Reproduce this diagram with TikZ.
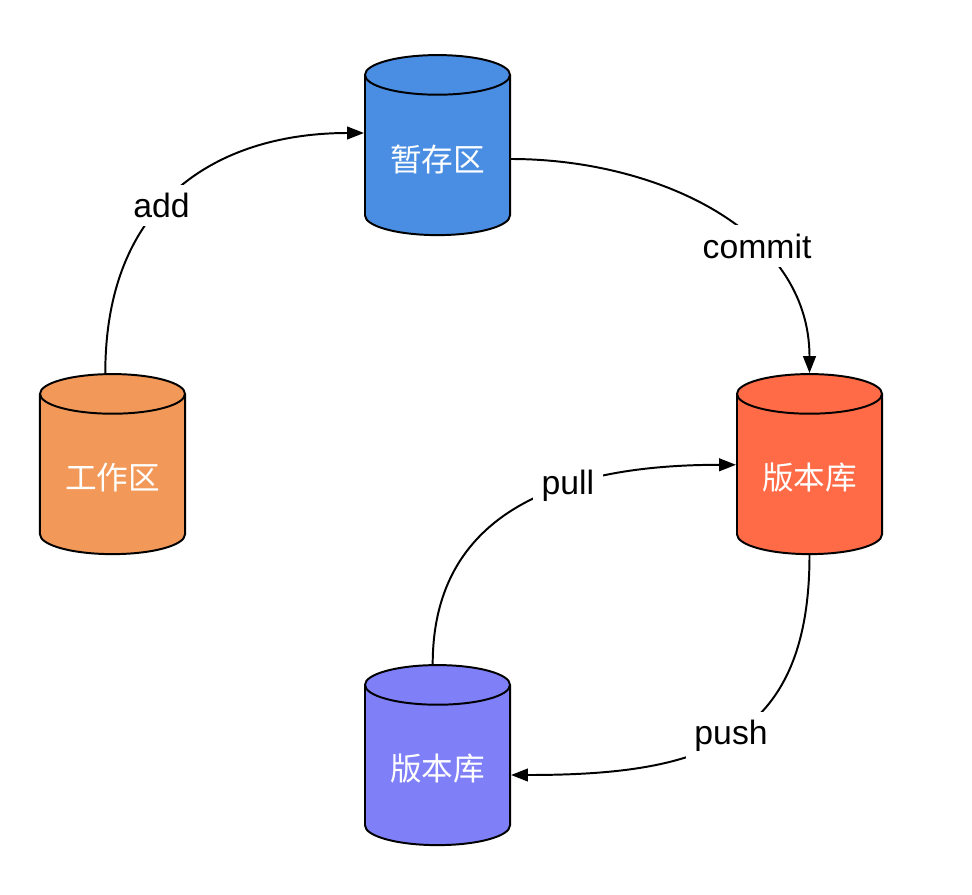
\documentclass[tikz,border=0pt]{standalone}
\usepackage{fontspec}
\setmainfont{Liberation Sans}
\newfontfamily\cjk{Noto Sans CJK SC}
\usepackage{tikz}
\usetikzlibrary{shapes.geometric}
\usetikzlibrary{arrows.meta}
\definecolor{stagecol}{HTML}{4A8EE4}
\definecolor{workcol}{HTML}{F2995A}
\definecolor{repocol}{HTML}{FF6B47}
\definecolor{remotecol}{HTML}{7F80F8}

\begin{document}
\begin{tikzpicture}[x=0.025cm, y=-0.025cm,
		db/.style={cylinder, shape border rotate=90, aspect=0.38, draw, line width=1.4pt,
			minimum width=3.625cm, minimum height=4.5cm, text=white, font=\cjk\fontsize{22.5}{25}\selectfont},
		flow/.style={line width=1.4pt, -{Triangle[length=12pt, width=9pt]}},
		tag/.style={fill=white, inner sep=6pt, font=\fontsize{24}{28}\selectfont}]
	\useasboundingbox (0, 0) rectangle (972, 894);

	\node[db, fill=stagecol](stage) at (437.5, 159) {暂存区};
	\node[db, fill=workcol](work) at (112.5, 478) {工作区};
	\node[db, fill=repocol](repo) at (809.5, 478) {版本库};
	\node[db, fill=remotecol](remote) at (437.5, 769) {版本库};

	\draw[flow]([xshift=-0.18cm]work.north) to[out=90, in=180, out looseness=1.3] node[tag, pos=0.42]{add} ([yshift=0.65cm]stage.west);
	\draw[flow](stage.east) to[out=0, in=90] node[tag, pos=0.64]{commit} (repo.north);
	\draw[flow]([xshift=-0.12cm]remote.north) to[out=90, in=180, out looseness=1.2] node[tag, pos=0.6]{pull} ([yshift=0.33cm]repo.west);
	\draw[flow](repo.south) to[out=-90, in=0, looseness=1.3] node[tag, pos=0.5]{push} ([yshift=-0.15cm]remote.east);
\end{tikzpicture}
\end{document}
